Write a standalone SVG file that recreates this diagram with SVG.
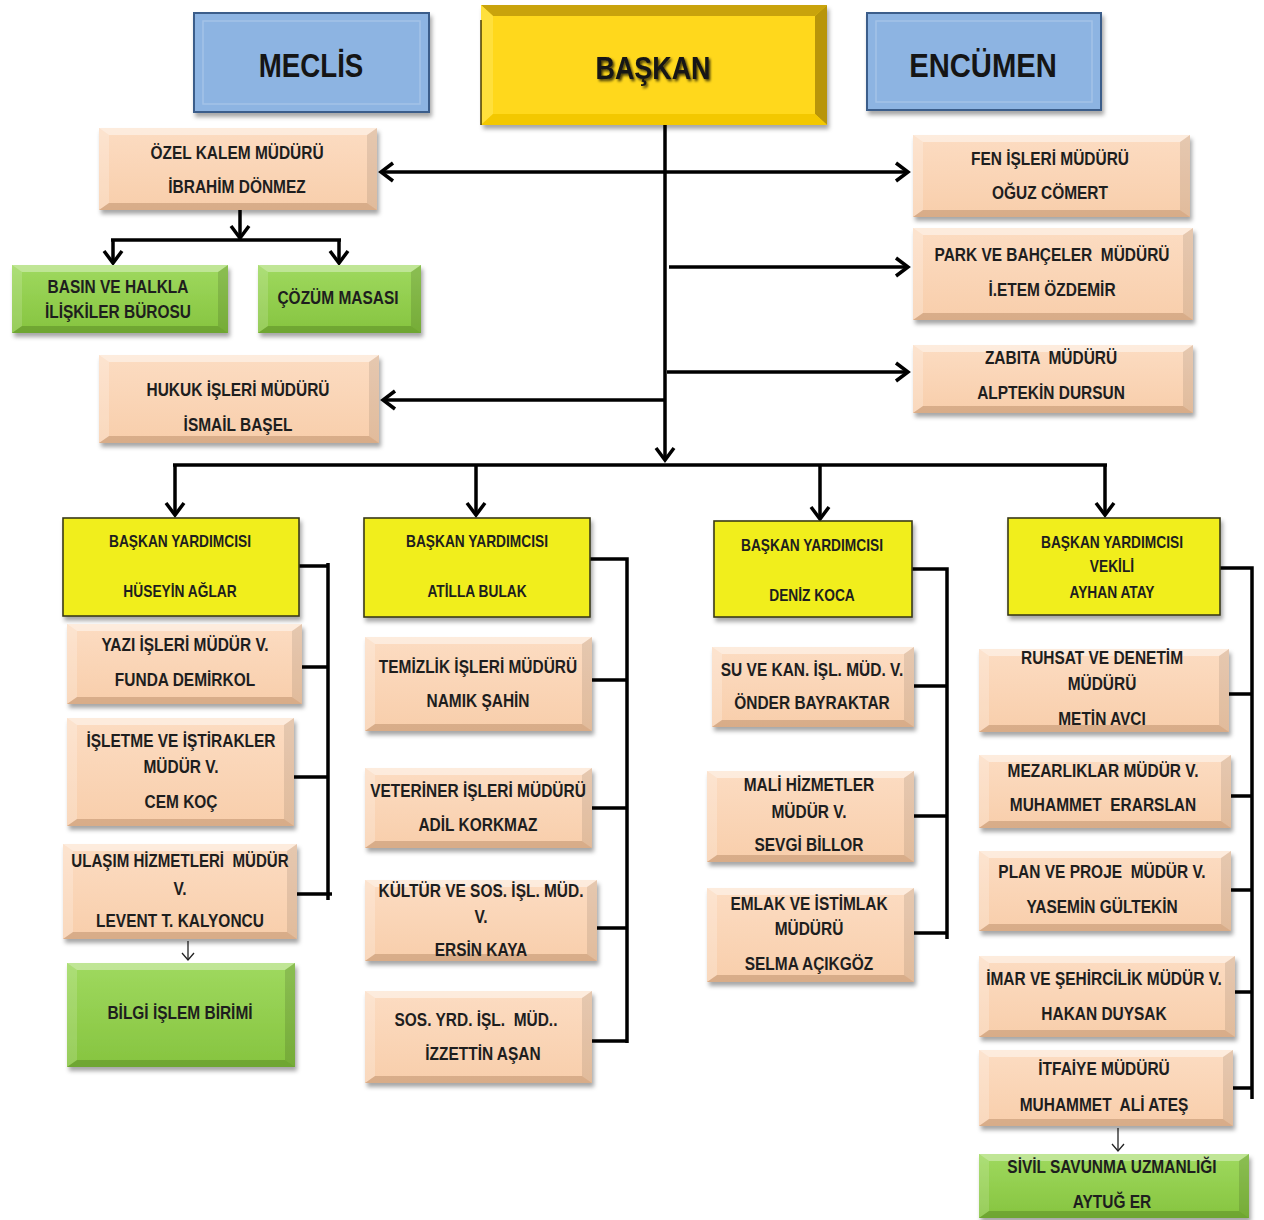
<svg xmlns="http://www.w3.org/2000/svg" width="1264" height="1220" viewBox="0 0 1264 1220">
<defs>
<style>
.t{font-family:"Liberation Sans",Arial,sans-serif;font-weight:bold;font-size:18px;text-anchor:middle;fill:#1e1e1e;white-space:pre}
.v{font-family:"Liberation Sans",Arial,sans-serif;font-weight:bold;font-size:16px;text-anchor:middle;fill:#1e1e1e;white-space:pre}
.h{font-family:"Liberation Sans",Arial,sans-serif;font-weight:bold;text-anchor:middle;fill:#151515}
.pe{fill:url(#gPeach)}
.gr{fill:url(#gGreen)}
.bt{fill:#ffffff;fill-opacity:.45}
.bl{fill:#ffffff;fill-opacity:.22}
.br{fill:#000000;fill-opacity:.09}
.bb{fill:#5a2a00;fill-opacity:.2}
.gbt{fill:#ffffff;fill-opacity:.35}
.gbl{fill:#ffffff;fill-opacity:.15}
.gbr{fill:#000000;fill-opacity:.12}
.gbb{fill:#1a3a00;fill-opacity:.22}
.vp{fill:#f1ee1d;stroke:#3a3a1a;stroke-width:1.6}
.bl2{fill:#8db4e2;stroke:#3a5d8a;stroke-width:2}
.ln{fill:none;stroke:#000;stroke-width:3.5}
.thin{fill:none;stroke:#222;stroke-width:1.3}
</style>
<linearGradient id="gPeach" x1="0" y1="0" x2="0" y2="1">
<stop offset="0" stop-color="#fcdcc2"/><stop offset="1" stop-color="#f8ceab"/>
</linearGradient>
<linearGradient id="gGreen" x1="0" y1="0" x2="0" y2="1">
<stop offset="0" stop-color="#9fd95f"/><stop offset="1" stop-color="#86c43f"/>
</linearGradient>
<filter id="sh" x="-10%" y="-10%" width="125%" height="135%">
<feDropShadow dx="2" dy="4" stdDeviation="2.2" flood-color="#000" flood-opacity=".35"/>
</filter>
<filter id="tsh" x="-10%" y="-20%" width="125%" height="150%">
<feDropShadow dx="2" dy="2" stdDeviation="1.4" flood-color="#000" flood-opacity=".75"/>
</filter>
<marker id="ah" viewBox="-16 -11 20 22" markerWidth="20" markerHeight="22" refX="0" refY="0" orient="auto-start-reverse" markerUnits="userSpaceOnUse">
<path d="M-12,-9 L0,0 L-12,9" fill="none" stroke="#000" stroke-width="3.5"/>
</marker>
<marker id="sa" viewBox="-9 -8 11 16" markerWidth="11" markerHeight="16" refX="0" refY="0" orient="auto" markerUnits="userSpaceOnUse">
<path d="M-7,-6 L0,0 L-7,6" fill="none" stroke="#222" stroke-width="1.3"/>
</marker>
</defs>
<rect x="0" y="0" width="1264" height="1220" fill="#ffffff"/>

<g id="connectors">
<line class="ln" x1="665" y1="125" x2="665" y2="460" marker-end="url(#ah)"/>
<line class="ln" x1="381" y1="172" x2="908" y2="172" marker-start="url(#ah)" marker-end="url(#ah)"/>
<line class="ln" x1="669" y1="267" x2="908" y2="267" marker-end="url(#ah)"/>
<line class="ln" x1="667" y1="372" x2="908" y2="372" marker-end="url(#ah)"/>
<line class="ln" x1="665" y1="400" x2="383" y2="400" marker-end="url(#ah)"/>
<line class="ln" x1="173" y1="465" x2="1107" y2="465"/>
<line class="ln" x1="175" y1="465" x2="175" y2="515" marker-end="url(#ah)"/>
<line class="ln" x1="476" y1="465" x2="476" y2="515" marker-end="url(#ah)"/>
<line class="ln" x1="820" y1="465" x2="820" y2="519" marker-end="url(#ah)"/>
<line class="ln" x1="1105" y1="465" x2="1105" y2="515" marker-end="url(#ah)"/>
<line class="ln" x1="240" y1="210" x2="240" y2="238" marker-end="url(#ah)"/>
<line class="ln" x1="111" y1="240" x2="341" y2="240"/>
<line class="ln" x1="113" y1="240" x2="113" y2="263" marker-end="url(#ah)"/>
<line class="ln" x1="339" y1="240" x2="339" y2="263" marker-end="url(#ah)"/>
<path class="ln" d="M299,566 H328 M328,563 V900 M302,667 H328 M294,777 H328 M297,894 H332"/>
<path class="ln" d="M590,559 H627 V1043 M592,680 H627 M592,808 H627 M597,928 H627 M592,1041 H627"/>
<path class="ln" d="M912,569 H947 V939 M914,686 H947 M914,816 H947 M914,933 H947"/>
<path class="ln" d="M1220,568 H1252 V1099 M1229,694 H1252 M1231,796 H1252 M1231,890 H1252 M1235,992 H1252 M1233,1088 H1252"/>
<line class="thin" x1="188" y1="941" x2="188" y2="960" marker-end="url(#sa)"/>
<line class="thin" x1="1118" y1="1128" x2="1118" y2="1151" marker-end="url(#sa)"/>
</g>

<g id="meclis">
<rect class="bl2" x="194" y="13" width="235" height="99" filter="url(#sh)"/>
<rect x="203" y="21" width="217" height="83" fill="none" stroke="#ffffff" stroke-opacity=".2" stroke-width="1.5"/>
<text class="h" font-size="33" transform="translate(311 77) scale(.84 1)">MECLİS</text>
</g>
<g id="encumen">
<rect class="bl2" x="867" y="13" width="234" height="97" filter="url(#sh)"/>
<rect x="876" y="21" width="216" height="81" fill="none" stroke="#ffffff" stroke-opacity=".2" stroke-width="1.5"/>
<text class="h" font-size="34" transform="translate(983 77) scale(.86 1)">ENCÜMEN</text>
</g>
<g id="baskan">
<rect x="481" y="5" width="346" height="120" fill="#ffd81f" filter="url(#sh)"/>
<polygon points="481,5 827,5 815,16 493,16" fill="#c9a30c"/>
<polygon points="481,5 493,16 493,114 481,125" fill="#ffe03c"/>
<polygon points="827,5 827,125 815,114 815,16" fill="#b8950a"/>
<polygon points="481,125 493,114 815,114 827,125" fill="#f3c800"/>
<line x1="481" y1="20" x2="481" y2="125" stroke="#4a3c00" stroke-width="1.5"/>
<text class="h" font-size="32" filter="url(#tsh)" transform="translate(653 79) scale(.84 1)">BAŞKAN</text>
</g>

<g id="ozel-kalem">
<rect class="pe" x="99" y="128" width="278" height="82" filter="url(#sh)"/>
<polygon class="bt" points="99,128 377,128 367,135 109,135"/>
<polygon class="bl" points="99,128 109,135 109,203 99,210"/>
<polygon class="br" points="377,128 377,210 367,203 367,135"/>
<polygon class="bb" points="99,210 109,203 367,203 377,210"/>
<text class="t" transform="translate(237 159) scale(.86 1)">ÖZEL KALEM MÜDÜRÜ</text>
<text class="t" transform="translate(237 193) scale(.86 1)">İBRAHİM DÖNMEZ</text>
</g>
<g id="hukuk">
<rect class="pe" x="99" y="355" width="280" height="88" filter="url(#sh)"/>
<polygon class="bt" points="99,355 379,355 369,362 109,362"/>
<polygon class="bl" points="99,355 109,362 109,436 99,443"/>
<polygon class="br" points="379,355 379,443 369,436 369,362"/>
<polygon class="bb" points="99,443 109,436 369,436 379,443"/>
<text class="t" transform="translate(238 396) scale(.86 1)">HUKUK İŞLERİ MÜDÜRÜ</text>
<text class="t" transform="translate(238 431) scale(.86 1)">İSMAİL BAŞEL</text>
</g>
<g id="fen">
<rect class="pe" x="913" y="135" width="277" height="82" filter="url(#sh)"/>
<polygon class="bt" points="913,135 1190,135 1180,142 923,142"/>
<polygon class="bl" points="913,135 923,142 923,210 913,217"/>
<polygon class="br" points="1190,135 1190,217 1180,210 1180,142"/>
<polygon class="bb" points="913,217 923,210 1180,210 1190,217"/>
<text class="t" transform="translate(1050 165) scale(.86 1)">FEN İŞLERİ MÜDÜRÜ</text>
<text class="t" transform="translate(1050 199) scale(.86 1)">OĞUZ CÖMERT</text>
</g>
<g id="park">
<rect class="pe" x="913" y="228" width="280" height="92" filter="url(#sh)"/>
<polygon class="bt" points="913,228 1193,228 1183,235 923,235"/>
<polygon class="bl" points="913,228 923,235 923,313 913,320"/>
<polygon class="br" points="1193,228 1193,320 1183,313 1183,235"/>
<polygon class="bb" points="913,320 923,313 1183,313 1193,320"/>
<text class="t" transform="translate(1052 261) scale(.86 1)">PARK VE BAHÇELER  MÜDÜRÜ</text>
<text class="t" transform="translate(1052 296) scale(.86 1)">İ.ETEM ÖZDEMİR</text>
</g>
<g id="zabita">
<rect class="pe" x="913" y="345" width="280" height="68" filter="url(#sh)"/>
<polygon class="bt" points="913,345 1193,345 1183,352 923,352"/>
<polygon class="bl" points="913,345 923,352 923,406 913,413"/>
<polygon class="br" points="1193,345 1193,413 1183,406 1183,352"/>
<polygon class="bb" points="913,413 923,406 1183,406 1193,413"/>
<text class="t" transform="translate(1051 364) scale(.86 1)">ZABITA  MÜDÜRÜ</text>
<text class="t" transform="translate(1051 399) scale(.86 1)">ALPTEKİN DURSUN</text>
</g>
<g id="basin">
<rect class="gr" x="12" y="265" width="216" height="68" filter="url(#sh)"/>
<polygon class="gbt" points="12,265 228,265 218,272 22,272"/>
<polygon class="gbl" points="12,265 22,272 22,326 12,333"/>
<polygon class="gbr" points="228,265 228,333 218,326 218,272"/>
<polygon class="gbb" points="12,333 22,326 218,326 228,333"/>
<text class="t" transform="translate(118 293) scale(.86 1)">BASIN VE HALKLA</text>
<text class="t" transform="translate(118 318) scale(.86 1)">İLİŞKİLER BÜROSU</text>
</g>
<g id="cozum">
<rect class="gr" x="258" y="265" width="163" height="68" filter="url(#sh)"/>
<polygon class="gbt" points="258,265 421,265 411,272 268,272"/>
<polygon class="gbl" points="258,265 268,272 268,326 258,333"/>
<polygon class="gbr" points="421,265 421,333 411,326 411,272"/>
<polygon class="gbb" points="258,333 268,326 411,326 421,333"/>
<text class="t" transform="translate(338 304) scale(.86 1)">ÇÖZÜM MASASI</text>
</g>

<g id="vp1">
<rect class="vp" x="63" y="518" width="236" height="98" filter="url(#sh)"/>
<text class="v" transform="translate(180 547) scale(.86 1)">BAŞKAN YARDIMCISI</text>
<text class="v" transform="translate(180 597) scale(.86 1)">HÜSEYİN AĞLAR</text>
</g>
<g id="vp2">
<rect class="vp" x="364" y="518" width="226" height="99" filter="url(#sh)"/>
<text class="v" transform="translate(477 547) scale(.86 1)">BAŞKAN YARDIMCISI</text>
<text class="v" transform="translate(477 597) scale(.86 1)">ATİLLA BULAK</text>
</g>
<g id="vp3">
<rect class="vp" x="714" y="521" width="198" height="96" filter="url(#sh)"/>
<text class="v" transform="translate(812 551) scale(.86 1)">BAŞKAN YARDIMCISI</text>
<text class="v" transform="translate(812 601) scale(.86 1)">DENİZ KOCA</text>
</g>
<g id="vp4">
<rect class="vp" x="1008" y="518" width="212" height="97" filter="url(#sh)"/>
<text class="v" transform="translate(1112 548) scale(.86 1)">BAŞKAN YARDIMCISI</text>
<text class="v" transform="translate(1112 572) scale(.86 1)">VEKİLİ</text>
<text class="v" transform="translate(1112 598) scale(.86 1)">AYHAN ATAY</text>
</g>

<g id="yazi">
<rect class="pe" x="67" y="624" width="235" height="80" filter="url(#sh)"/>
<polygon class="bt" points="67,624 302,624 292,631 77,631"/>
<polygon class="bl" points="67,624 77,631 77,697 67,704"/>
<polygon class="br" points="302,624 302,704 292,697 292,631"/>
<polygon class="bb" points="67,704 77,697 292,697 302,704"/>
<text class="t" transform="translate(185 651) scale(.86 1)">YAZI İŞLERİ MÜDÜR V.</text>
<text class="t" transform="translate(185 686) scale(.86 1)">FUNDA DEMİRKOL</text>
</g>
<g id="isletme">
<rect class="pe" x="67" y="718" width="227" height="108" filter="url(#sh)"/>
<polygon class="bt" points="67,718 294,718 284,725 77,725"/>
<polygon class="bl" points="67,718 77,725 77,819 67,826"/>
<polygon class="br" points="294,718 294,826 284,819 284,725"/>
<polygon class="bb" points="67,826 77,819 284,819 294,826"/>
<text class="t" transform="translate(181 747) scale(.86 1)">İŞLETME VE İŞTİRAKLER</text>
<text class="t" transform="translate(181 773) scale(.86 1)">MÜDÜR V.</text>
<text class="t" transform="translate(181 808) scale(.86 1)">CEM KOÇ</text>
</g>
<g id="ulasim">
<rect class="pe" x="63" y="844" width="234" height="95" filter="url(#sh)"/>
<polygon class="bt" points="63,844 297,844 287,851 73,851"/>
<polygon class="bl" points="63,844 73,851 73,932 63,939"/>
<polygon class="br" points="297,844 297,939 287,932 287,851"/>
<polygon class="bb" points="63,939 73,932 287,932 297,939"/>
<text class="t" transform="translate(180 867) scale(.84 1)">ULAŞIM HİZMETLERİ  MÜDÜR</text>
<text class="t" transform="translate(180 895) scale(.86 1)">V.</text>
<text class="t" transform="translate(180 927) scale(.86 1)">LEVENT T. KALYONCU</text>
</g>
<g id="bilgi">
<rect class="gr" x="67" y="963" width="228" height="104" filter="url(#sh)"/>
<polygon class="gbt" points="67,963 295,963 285,970 77,970"/>
<polygon class="gbl" points="67,963 77,970 77,1060 67,1067"/>
<polygon class="gbr" points="295,963 295,1067 285,1060 285,970"/>
<polygon class="gbb" points="67,1067 77,1060 285,1060 295,1067"/>
<text class="t" transform="translate(180 1019) scale(.86 1)">BİLGİ İŞLEM BİRİMİ</text>
</g>

<g id="temizlik">
<rect class="pe" x="365" y="637" width="227" height="94" filter="url(#sh)"/>
<polygon class="bt" points="365,637 592,637 582,644 375,644"/>
<polygon class="bl" points="365,637 375,644 375,724 365,731"/>
<polygon class="br" points="592,637 592,731 582,724 582,644"/>
<polygon class="bb" points="365,731 375,724 582,724 592,731"/>
<text class="t" transform="translate(478 673) scale(.86 1)">TEMİZLİK İŞLERİ MÜDÜRÜ</text>
<text class="t" transform="translate(478 707) scale(.86 1)">NAMIK ŞAHİN</text>
</g>
<g id="veteriner">
<rect class="pe" x="365" y="768" width="227" height="80" filter="url(#sh)"/>
<polygon class="bt" points="365,768 592,768 582,775 375,775"/>
<polygon class="bl" points="365,768 375,775 375,841 365,848"/>
<polygon class="br" points="592,768 592,848 582,841 582,775"/>
<polygon class="bb" points="365,848 375,841 582,841 592,848"/>
<text class="t" transform="translate(478 797) scale(.86 1)">VETERİNER İŞLERİ MÜDÜRÜ</text>
<text class="t" transform="translate(478 831) scale(.86 1)">ADİL KORKMAZ</text>
</g>
<g id="kultur">
<rect class="pe" x="365" y="880" width="232" height="81" filter="url(#sh)"/>
<polygon class="bt" points="365,880 597,880 587,887 375,887"/>
<polygon class="bl" points="365,880 375,887 375,954 365,961"/>
<polygon class="br" points="597,880 597,961 587,954 587,887"/>
<polygon class="bb" points="365,961 375,954 587,954 597,961"/>
<text class="t" transform="translate(481 897) scale(.86 1)">KÜLTÜR VE SOS. İŞL. MÜD.</text>
<text class="t" transform="translate(481 923) scale(.86 1)">V.</text>
<text class="t" transform="translate(481 956) scale(.86 1)">ERSİN KAYA</text>
</g>
<g id="sos">
<rect class="pe" x="365" y="991" width="227" height="92" filter="url(#sh)"/>
<polygon class="bt" points="365,991 592,991 582,998 375,998"/>
<polygon class="bl" points="365,991 375,998 375,1076 365,1083"/>
<polygon class="br" points="592,991 592,1083 582,1076 582,998"/>
<polygon class="bb" points="365,1083 375,1076 582,1076 592,1083"/>
<text class="t" transform="translate(476 1026) scale(.86 1)">SOS. YRD. İŞL.  MÜD..</text>
<text class="t" transform="translate(483 1060) scale(.86 1)">İZZETTİN AŞAN</text>
</g>

<g id="su">
<rect class="pe" x="712" y="647" width="202" height="80" filter="url(#sh)"/>
<polygon class="bt" points="712,647 914,647 904,654 722,654"/>
<polygon class="bl" points="712,647 722,654 722,720 712,727"/>
<polygon class="br" points="914,647 914,727 904,720 904,654"/>
<polygon class="bb" points="712,727 722,720 904,720 914,727"/>
<text class="t" transform="translate(812 676) scale(.86 1)">SU VE KAN. İŞL. MÜD. V.</text>
<text class="t" transform="translate(812 709) scale(.86 1)">ÖNDER BAYRAKTAR</text>
</g>
<g id="mali">
<rect class="pe" x="707" y="771" width="207" height="91" filter="url(#sh)"/>
<polygon class="bt" points="707,771 914,771 904,778 717,778"/>
<polygon class="bl" points="707,771 717,778 717,855 707,862"/>
<polygon class="br" points="914,771 914,862 904,855 904,778"/>
<polygon class="bb" points="707,862 717,855 904,855 914,862"/>
<text class="t" transform="translate(809 791) scale(.86 1)">MALİ HİZMETLER</text>
<text class="t" transform="translate(809 818) scale(.86 1)">MÜDÜR V.</text>
<text class="t" transform="translate(809 851) scale(.86 1)">SEVGİ BİLLOR</text>
</g>
<g id="emlak">
<rect class="pe" x="707" y="888" width="207" height="94" filter="url(#sh)"/>
<polygon class="bt" points="707,888 914,888 904,895 717,895"/>
<polygon class="bl" points="707,888 717,895 717,975 707,982"/>
<polygon class="br" points="914,888 914,982 904,975 904,895"/>
<polygon class="bb" points="707,982 717,975 904,975 914,982"/>
<text class="t" transform="translate(809 910) scale(.86 1)">EMLAK VE İSTİMLAK</text>
<text class="t" transform="translate(809 935) scale(.86 1)">MÜDÜRÜ</text>
<text class="t" transform="translate(809 970) scale(.86 1)">SELMA AÇIKGÖZ</text>
</g>

<g id="ruhsat">
<rect class="pe" x="979" y="649" width="250" height="83" filter="url(#sh)"/>
<polygon class="bt" points="979,649 1229,649 1219,656 989,656"/>
<polygon class="bl" points="979,649 989,656 989,725 979,732"/>
<polygon class="br" points="1229,649 1229,732 1219,725 1219,656"/>
<polygon class="bb" points="979,732 989,725 1219,725 1229,732"/>
<text class="t" transform="translate(1102 664) scale(.86 1)">RUHSAT VE DENETİM</text>
<text class="t" transform="translate(1102 690) scale(.86 1)">MÜDÜRÜ</text>
<text class="t" transform="translate(1102 725) scale(.86 1)">METİN AVCI</text>
</g>
<g id="mezarlik">
<rect class="pe" x="979" y="755" width="252" height="73" filter="url(#sh)"/>
<polygon class="bt" points="979,755 1231,755 1221,762 989,762"/>
<polygon class="bl" points="979,755 989,762 989,821 979,828"/>
<polygon class="br" points="1231,755 1231,828 1221,821 1221,762"/>
<polygon class="bb" points="979,828 989,821 1221,821 1231,828"/>
<text class="t" transform="translate(1103 777) scale(.86 1)">MEZARLIKLAR MÜDÜR V.</text>
<text class="t" transform="translate(1103 811) scale(.86 1)">MUHAMMET  ERARSLAN</text>
</g>
<g id="plan">
<rect class="pe" x="979" y="851" width="252" height="80" filter="url(#sh)"/>
<polygon class="bt" points="979,851 1231,851 1221,858 989,858"/>
<polygon class="bl" points="979,851 989,858 989,924 979,931"/>
<polygon class="br" points="1231,851 1231,931 1221,924 1221,858"/>
<polygon class="bb" points="979,931 989,924 1221,924 1231,931"/>
<text class="t" transform="translate(1102 878) scale(.86 1)">PLAN VE PROJE  MÜDÜR V.</text>
<text class="t" transform="translate(1102 913) scale(.86 1)">YASEMİN GÜLTEKİN</text>
</g>
<g id="imar">
<rect class="pe" x="979" y="956" width="256" height="81" filter="url(#sh)"/>
<polygon class="bt" points="979,956 1235,956 1225,963 989,963"/>
<polygon class="bl" points="979,956 989,963 989,1030 979,1037"/>
<polygon class="br" points="1235,956 1235,1037 1225,1030 1225,963"/>
<polygon class="bb" points="979,1037 989,1030 1225,1030 1235,1037"/>
<text class="t" transform="translate(1104 985) scale(.86 1)">İMAR VE ŞEHİRCİLİK MÜDÜR V.</text>
<text class="t" transform="translate(1104 1020) scale(.86 1)">HAKAN DUYSAK</text>
</g>
<g id="itfaiye">
<rect class="pe" x="979" y="1050" width="254" height="76" filter="url(#sh)"/>
<polygon class="bt" points="979,1050 1233,1050 1223,1057 989,1057"/>
<polygon class="bl" points="979,1050 989,1057 989,1119 979,1126"/>
<polygon class="br" points="1233,1050 1233,1126 1223,1119 1223,1057"/>
<polygon class="bb" points="979,1126 989,1119 1223,1119 1233,1126"/>
<text class="t" transform="translate(1104 1075) scale(.86 1)">İTFAİYE MÜDÜRÜ</text>
<text class="t" transform="translate(1104 1111) scale(.86 1)">MUHAMMET  ALİ ATEŞ</text>
</g>
<g id="sivil">
<rect class="gr" x="979" y="1154" width="270" height="64" filter="url(#sh)"/>
<polygon class="gbt" points="979,1154 1249,1154 1239,1161 989,1161"/>
<polygon class="gbl" points="979,1154 989,1161 989,1211 979,1218"/>
<polygon class="gbr" points="1249,1154 1249,1218 1239,1211 1239,1161"/>
<polygon class="gbb" points="979,1218 989,1211 1239,1211 1249,1218"/>
<text class="t" transform="translate(1112 1173) scale(.86 1)">SİVİL SAVUNMA UZMANLIĞI</text>
<text class="t" transform="translate(1112 1208) scale(.86 1)">AYTUĞ ER</text>
</g>
</svg>
